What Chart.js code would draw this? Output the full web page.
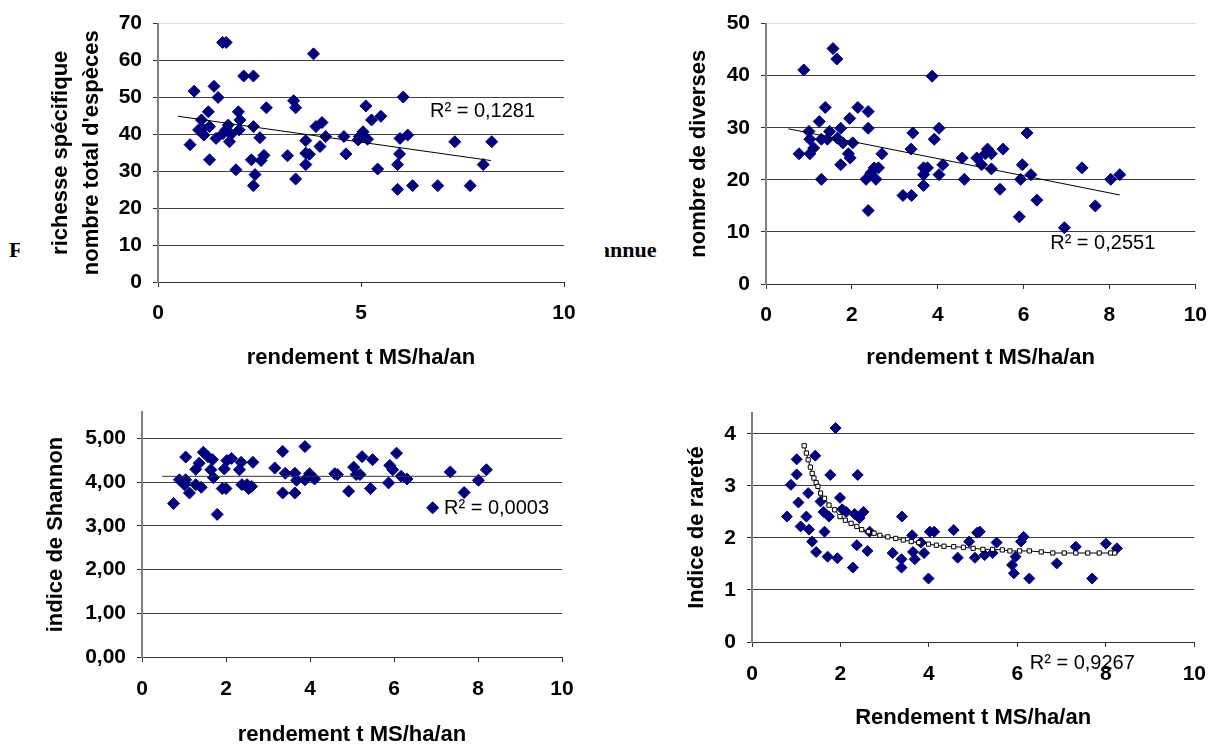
<!DOCTYPE html>
<html>
<head>
<meta charset="utf-8">
<script src="https://cdn.jsdelivr.net/npm/chart.js@4.4.1/dist/chart.umd.min.js"></script>
<style>
    html, body { margin: 0; padding: 0; background: #fff; }
    body { width: 1221px; height: 746px; position: relative; overflow: hidden; }
    canvas { position: absolute; background: #fff; z-index: 2; }
    .caption {
        position: absolute; z-index: 1; white-space: nowrap; color: #000;
        font: bold 22px 'Liberation Serif', 'Times New Roman', serif; line-height: 22px;
    }
</style>
</head>
<body>
<!-- bouts de légende du document, cachés en partie par les graphiques -->
<div class="caption" style="left:9px;top:239px">F</div>
<div class="caption" style="left:599px;top:239px">annuel</div>

<canvas id="chartRichesse" width="585" height="375" style="left:20px;top:0"></canvas>
<canvas id="chartDiverses" width="564" height="375" style="left:657px;top:0"></canvas>
<canvas id="chartShannon" width="585" height="371" style="left:20px;top:375px"></canvas>
<canvas id="chartRarete" width="564" height="371" style="left:657px;top:375px"></canvas>

<script>
// richesse spécifique
const richX = [0.79, 0.89, 1.0, 1.07, 1.13, 1.1, 1.24, 1.27, 1.27, 1.38, 1.43, 1.48, 1.59, 1.68, 1.67, 1.6, 1.73, 1.76, 1.8,
    1.92, 1.98, 2.0, 2.02, 2.11, 2.35, 2.35, 2.3, 2.39, 2.35, 2.51, 2.54, 2.61, 2.67, 3.19, 3.34, 3.39, 3.39,
    3.64, 3.64, 3.64, 3.73, 3.83, 3.89, 3.99, 4.04, 4.13, 4.58, 4.63, 4.93, 4.96, 5.05, 5.12, 5.16, 5.26, 5.41, 5.49,
    5.9, 5.9, 5.95, 5.96, 6.04, 6.15, 6.27, 6.89, 7.31, 7.69, 8.01, 8.22];
const richY = [37.2, 51.7, 41.2, 43.9, 39.8, 41.5, 46.1, 42.1, 33.1, 53, 38.9, 50, 64.9, 64.9, 41.2, 40.2, 42.5, 38, 40,
    30.4, 46.1, 41.2, 43.9, 55.8, 55.8, 42.1, 33.1, 29.1, 26.1, 39.1, 32.9, 34.3, 47.2, 34.2, 49.1, 47.2, 27.9,
    38.3, 34.9, 31.8, 34.6, 61.8, 42.1, 36.7, 43.2, 39.4, 39.4, 34.7, 38.5, 39.4, 40.7, 47.7, 38.7, 43.9, 30.6, 44.9,
    31.8, 25.1, 34.7, 38.9, 50.1, 39.8, 26.1, 26.1, 38, 26.1, 31.8, 38];
const richTrendX = [0.49, 8.2];
const richTrendY = [44.9, 32.9];
const richTicks = [0, 10, 20, 30, 40, 50, 60, 70];
const richLabels = ['0', '10', '20', '30', '40', '50', '60', '70'];

// nombre de diverses
const diversX = [0.77, 0.88, 1.0, 1.02, 1.02, 1.11, 1.24, 1.29, 1.29, 1.38, 1.43, 1.48, 1.56, 1.65, 1.66, 1.74, 1.74, 1.79,
    1.95, 1.92, 1.96, 2.02, 2.14, 2.38, 2.38, 2.38, 2.33, 2.44, 2.52, 2.56, 2.62, 2.7, 3.19, 3.39, 3.38, 3.42,
    3.67, 3.67, 3.67, 3.76, 3.87, 3.92, 4.03, 4.03, 4.12, 4.57, 4.62, 4.91, 5.02, 5.11, 5.16, 5.25, 5.25, 5.52, 5.45,
    5.9, 5.93, 5.97, 6.08, 6.17, 6.31, 6.95, 7.36, 7.67, 8.03, 8.24];
const diversY = [25, 41.1, 29.3, 27.8, 25, 26.1, 31.2, 20.1, 27.8, 33.9, 27.8, 29.3, 45.2, 43.2, 28, 29.9, 22.9, 27.1,
    31.8, 25, 24.2, 27.1, 33.9, 33.1, 29.9, 14.1, 20.1, 21.3, 22.3, 20.1, 22.3, 25, 17, 17, 25.9, 29,
    22.3, 21, 18.9, 22.3, 39.9, 27.8, 29.9, 21, 22.9, 24.2, 20.1, 24.2, 22.9, 25, 25.9, 25, 22.1, 25.9, 18.2,
    12.9, 20.1, 22.9, 29, 21, 16.1, 10.8, 22.3, 15, 20.1, 21];
const diversTrendX = [0.52, 8.24];
const diversTrendY = [29.8, 17.1];
const diversTicks = [0, 10, 20, 30, 40, 50];
const diversLabels = ['0', '10', '20', '30', '40', '50'];

// indice de Shannon
const shannonX = [0.75, 0.89, 1.04, 1.01, 1.04, 1.13, 1.28, 1.28, 1.36, 1.41, 1.46, 1.57, 1.64, 1.68, 1.7, 1.79, 1.91, 1.96,
    2.0, 2.02, 2.13, 2.32, 2.36, 2.38, 2.5, 2.54, 2.61, 2.64, 3.16, 3.35, 3.35, 3.41, 3.64, 3.64, 3.68, 3.88, 3.88,
    3.99, 4.11, 4.59, 4.65, 4.92, 5.04, 5.1, 5.19, 5.24, 5.44, 5.49, 5.87, 5.9, 5.97, 6.06, 6.17, 6.31, 6.92,
    7.34, 7.67, 8.01, 8.2];
const shannonY = [3.51, 4.05, 4.57, 3.94, 4.05, 3.75, 3.94, 4.29, 4.43, 3.88, 4.68, 4.58, 4.28, 4.51, 4.1, 3.26, 3.85, 4.3,
    3.85, 4.49, 4.54, 4.28, 4.45, 3.94, 3.94, 3.85, 3.9, 4.45, 4.32, 4.7, 3.75, 4.2, 4.2, 3.75, 4.04, 4.81, 4.05,
    4.19, 4.07, 4.19, 4.17, 3.79, 4.34, 4.17, 4.17, 4.58, 3.85, 4.51, 3.98, 4.38, 4.28, 4.66, 4.13, 4.07, 3.41,
    4.23, 3.76, 4.04, 4.28];
const shannonTrendX = [0.48, 8.19];
const shannonTrendY = [4.13, 4.13];
const shannonTicks = [0, 1, 2, 3, 4, 5];
const shannonLabels = ['0,00', '1,00', '2,00', '3,00', '4,00', '5,00'];

// indice de rareté
const rareteX = [0.79, 0.88, 1.01, 1.01, 1.05, 1.1, 1.23, 1.27, 1.29, 1.36, 1.43, 1.45, 1.55, 1.62, 1.64, 1.71, 1.74,
    1.77, 1.89, 1.93, 1.99, 2.04, 2.13, 2.28, 2.32, 2.37, 2.39, 2.43, 2.52, 2.61, 2.66, 3.18, 3.38, 3.38, 3.39,
    3.62, 3.64, 3.68, 3.82, 3.89, 3.99, 4.02, 4.12, 4.56, 4.65, 4.91, 5.04, 5.09, 5.15, 5.26, 5.44, 5.53,
    5.88, 5.92, 5.96, 6.08, 6.14, 6.27, 6.89, 7.32, 7.69, 8.0, 8.25];
const rareteY = [2.41, 3.02, 3.51, 3.22, 2.68, 2.22, 2.41, 2.86, 2.16, 1.93, 3.58, 1.73, 2.7, 2.5, 2.12, 1.64, 2.41,
    3.21, 4.11, 1.61, 2.77, 2.55, 2.5, 1.43, 2.46, 1.86, 3.21, 2.38, 2.5, 1.75, 2.12, 1.71, 1.59, 1.43, 2.41,
    2.05, 1.73, 1.59, 1.91, 1.71, 1.22, 2.12, 2.12, 2.15, 1.62, 1.93, 1.62, 2.1, 2.12, 1.67, 1.71, 1.91,
    1.48, 1.32, 1.64, 1.93, 2.02, 1.22, 1.51, 1.83, 1.22, 1.89, 1.8];
const rareteTrendX = [1.18, 1.23, 1.27, 1.32, 1.36, 1.4, 1.45, 1.49, 1.55, 1.64, 1.74, 1.87, 1.99, 2.11, 2.24, 2.37,
    2.48, 2.63, 2.76, 2.89, 3.07, 3.25, 3.42, 3.6, 3.77, 3.99, 4.17, 4.34, 4.56, 4.78, 5.0, 5.22, 5.44, 5.66,
    5.83, 6.05, 6.27, 6.54, 6.8, 7.06, 7.32, 7.59, 7.85, 8.11, 8.2];
const rareteTrendY = [3.77, 3.63, 3.5, 3.36, 3.24, 3.15, 3.06, 2.99, 2.86, 2.76, 2.63, 2.54, 2.41, 2.34, 2.28, 2.22,
    2.16, 2.12, 2.09, 2.05, 2.02, 1.99, 1.96, 1.93, 1.91, 1.88, 1.86, 1.84, 1.83, 1.82, 1.8, 1.78, 1.78, 1.77,
    1.75, 1.75, 1.75, 1.73, 1.71, 1.71, 1.71, 1.71, 1.71, 1.71, 1.71];
const rareteTicks = [0, 1, 2, 3, 4];
const rareteLabels = ['0', '1', '2', '3', '4'];

const xTicks5 = [0, 5, 10];
const xTicks2 = [0, 2, 4, 6, 8, 10];

const FONT = "'Liberation Sans', Arial, sans-serif";

// texte R² posé en coordonnées de données
const r2Plugin = {
    id: 'r2Label',
    afterDatasetsDraw(chart, args, opts) {
        if (!opts || !opts.text) return;
        const {ctx, scales} = chart;
        ctx.save();
        ctx.font = '20px ' + FONT;
        ctx.fillStyle = '#000';
        ctx.textBaseline = 'middle';
        ctx.textAlign = 'left';
        ctx.fillText(opts.text, scales.x.getPixelForValue(opts.x), scales.y.getPixelForValue(opts.y));
        ctx.restore();
    }
};

function toPoints(xs, ys) {
    return xs.map((x, i) => ({x: x, y: ys[i]}));
}

function makeChart(id, o) {
    const trendStyle = o.trendMarkers
        ? {pointStyle: 'rect', pointRadius: 3, pointBackgroundColor: '#fff', pointBorderColor: '#000', pointBorderWidth: 1}
        : {pointRadius: 0};
    return new Chart(document.getElementById(id), {
        type: 'scatter',
        data: {
            datasets: [
                Object.assign({
                    data: toPoints(o.trendX, o.trendY),
                    showLine: true,
                    borderColor: o.trendColor || '#000',
                    borderWidth: 1,
                    order: 0
                }, trendStyle),
                {
                    data: toPoints(o.xs, o.ys),
                    pointStyle: 'rectRot',
                    pointRadius: o.pointRadius,
                    backgroundColor: '#000080',
                    borderColor: '#000080',
                    borderWidth: 1,
                    order: 1
                }
            ]
        },
        options: {
            responsive: false,
            animation: false,
            events: [],
            layout: {padding: o.padding},
            plugins: {
                legend: {display: false},
                tooltip: {enabled: false},
                r2Label: o.r2
            },
            scales: {
                x: {
                    type: 'linear',
                    min: 0,
                    max: 10,
                    afterBuildTicks: s => { s.ticks = o.xTicks.map(v => ({value: v})); },
                    afterFit: s => { s.height = o.xHeight; },
                    ticks: {
                        color: '#000',
                        padding: o.xTickPad,
                        font: {family: FONT, size: 21, weight: 'bold'},
                        callback: v => String(v)
                    },
                    grid: {drawOnChartArea: false, drawTicks: true, tickLength: 5, tickColor: '#333'},
                    border: {color: '#333', width: 1},
                    title: {
                        display: true,
                        text: o.xTitle,
                        color: '#000',
                        padding: {top: 0, bottom: 0},
                        font: {family: FONT, size: 22, weight: 'bold', lineHeight: 1}
                    }
                },
                y: {
                    type: 'linear',
                    min: 0,
                    max: o.yMax,
                    afterBuildTicks: s => { s.ticks = o.yTicks.map(v => ({value: v})); },
                    afterFit: s => { s.width = o.yWidth; },
                    ticks: {
                        color: '#000',
                        padding: 11,
                        font: {family: FONT, size: 21, weight: 'bold'},
                        callback: (v, i) => o.yLabels[i]
                    },
                    grid: {
                        color: c => (c.tick && c.tick.value === o.yMax) ? '#d9d9d9' : '#404040',
                        lineWidth: 1,
                        tickLength: 5,
                        tickColor: '#333'
                    },
                    border: {color: '#808080', width: 2},
                    title: {
                        display: true,
                        text: o.yTitle,
                        color: '#000',
                        padding: {top: o.yTitlePad, bottom: 0},
                        font: {family: FONT, size: 22, weight: 'bold', lineHeight: 1.4}
                    }
                }
            }
        },
        plugins: [r2Plugin]
    });
}

document.addEventListener('DOMContentLoaded', () => {
    makeChart('chartRichesse', {
        xs: richX, ys: richY, trendX: richTrendX, trendY: richTrendY,
        xTicks: xTicks5, yTicks: richTicks, yLabels: richLabels, yMax: 70,
        xTitle: 'rendement t MS/ha/an',
        yTitle: ['richesse spécifique', "nombre total d'espèces"],
        padding: {left: 0, top: 22, right: 41, bottom: 6},
        yWidth: 138, xHeight: 87, yTitlePad: 25.6, xTickPad: 14, pointRadius: 6,
        r2: {text: 'R² = 0,1281', x: 6.7, y: 46.3}
    });

    makeChart('chartDiverses', {
        xs: diversX, ys: diversY, trendX: diversTrendX, trendY: diversTrendY,
        xTicks: xTicks2, yTicks: diversTicks, yLabels: diversLabels, yMax: 50,
        xTitle: 'rendement t MS/ha/an',
        yTitle: 'nombre de diverses',
        padding: {left: 0, top: 22, right: 17, bottom: 6},
        yWidth: 109, xHeight: 85, yTitlePad: 26.6, xTickPad: 14, pointRadius: 6,
        r2: {text: 'R² = 0,2551', x: 6.62, y: 7.8}
    });

    makeChart('chartShannon', {
        xs: shannonX, ys: shannonY, trendX: shannonTrendX, trendY: shannonTrendY,
        trendColor: '#333',
        xTicks: xTicks2, yTicks: shannonTicks, yLabels: shannonLabels, yMax: 5.6,
        xTitle: 'rendement t MS/ha/an',
        yTitle: 'indice de Shannon',
        padding: {left: 0, top: 37, right: 43, bottom: 0},
        yWidth: 122, xHeight: 89, yTitlePad: 20.6, xTickPad: 15, pointRadius: 6,
        r2: {text: 'R² = 0,0003', x: 7.19, y: 3.4}
    });

    makeChart('chartRarete', {
        xs: rareteX, ys: rareteY, trendX: rareteTrendX, trendY: rareteTrendY,
        trendMarkers: true,
        xTicks: xTicks2, yTicks: rareteTicks, yLabels: rareteLabels, yMax: 4.4,
        xTitle: 'Rendement t MS/ha/an',
        yTitle: 'Indice de rareté',
        padding: {left: 0, top: 38, right: 18, bottom: 17},
        yWidth: 95, xHeight: 87, yTitlePad: 24.6, xTickPad: 15, pointRadius: 5.5,
        r2: {text: 'R² = 0,9267', x: 6.28, y: -0.41}
    });
});
</script>
</body>
</html>
